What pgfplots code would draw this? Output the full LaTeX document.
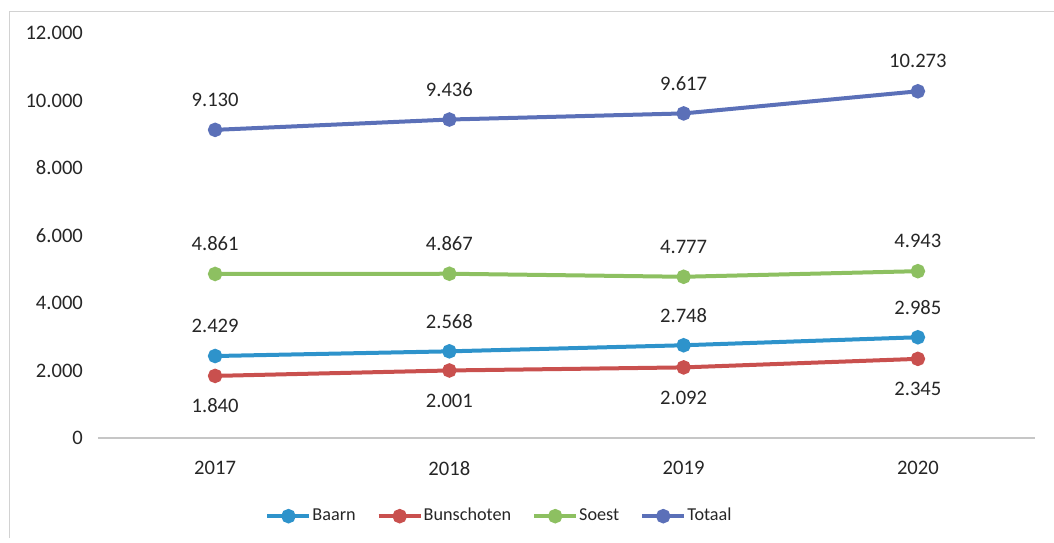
\documentclass[border=0pt]{standalone}
\usepackage{pgfplots}
\pgfplotsset{compat=1.18}
\usepackage{fontspec}
\setmainfont{Carlito}

\definecolor{baarn}{HTML}{2E93CB}
\definecolor{bunschoten}{HTML}{C9504E}
\definecolor{soest}{HTML}{8DC061}
\definecolor{totaal}{HTML}{5B70B8}
\definecolor{txt}{HTML}{262626}

\begin{document}
\begin{tikzpicture}
\path[use as bounding box] (-49pt,-52pt) rectangle (478pt,219pt);
% thin outer frame (top and left)
\draw[gray!35, line width=0.5pt] (-44pt,-50pt) -- (-44pt,213pt) -- (478pt,213pt);
\begin{axis}[
  at={(0pt,0pt)}, anchor=south west,
  scale only axis, width=468.5pt, height=202.5pt,
  xmin=-0.5, xmax=3.5, ymin=0, ymax=12000,
  xtick={0,1,2,3}, xticklabels={2017,2018,2019,2020},
  ytick={0,2000,...,12000},
  scaled y ticks=false,
  yticklabel={\pgfmathprintnumber[fixed,precision=0,1000 sep={.},assume math mode=true]{\tick}},
  axis x line*=bottom, axis y line*=left,
  x axis line style={gray!45, line width=0.6pt, -},
  y axis line style={draw=none},
  major tick length=0pt, tick style={draw=none},
  ticklabel style={font=\fontsize{10.3}{12}\selectfont, text=txt},
  yticklabel style={xshift=-4pt},
  xticklabel style={yshift=-8pt},
  clip=false,
  nodes near coords={\pgfmathprintnumber[fixed,precision=0,1000 sep={.},assume math mode=true]{\pgfplotspointmeta}},
  every node near coord/.append style={font=\fontsize{10.3}{12}\selectfont, text=txt, anchor=center, yshift=15pt},
  every axis plot/.append style={line width=2pt, mark=*, mark size=2.6pt, mark options={solid}},
  legend columns=4,
  legend cell align=left,
  legend style={at={(0.428,-0.193)}, anchor=center, draw=none, fill=none,
    font=\fontsize{9.1}{11}\selectfont, text=txt,
    nodes={inner xsep=0.5pt},
    /tikz/every even column/.append style={column sep=10pt},
    /tikz/every odd column/.append style={column sep=0pt}},
  legend image code/.code={\draw[#1, mark repeat=2, mark phase=2] plot coordinates {(0pt,0pt) (10.5pt,0pt) (21pt,0pt)};},
]
\addplot[color=baarn] coordinates {(0,2429) (1,2568) (2,2748) (3,2985)};
\addlegendentry{Baarn}
\addplot[color=bunschoten, every node near coord/.append style={yshift=-30pt}] coordinates {(0,1840) (1,2001) (2,2092) (3,2345)};
\addlegendentry{Bunschoten}
\addplot[color=soest] coordinates {(0,4861) (1,4867) (2,4777) (3,4943)};
\addlegendentry{Soest}
\addplot[color=totaal] coordinates {(0,9130) (1,9436) (2,9617) (3,10273)};
\addlegendentry{Totaal}
\end{axis}
\end{tikzpicture}
\end{document}
